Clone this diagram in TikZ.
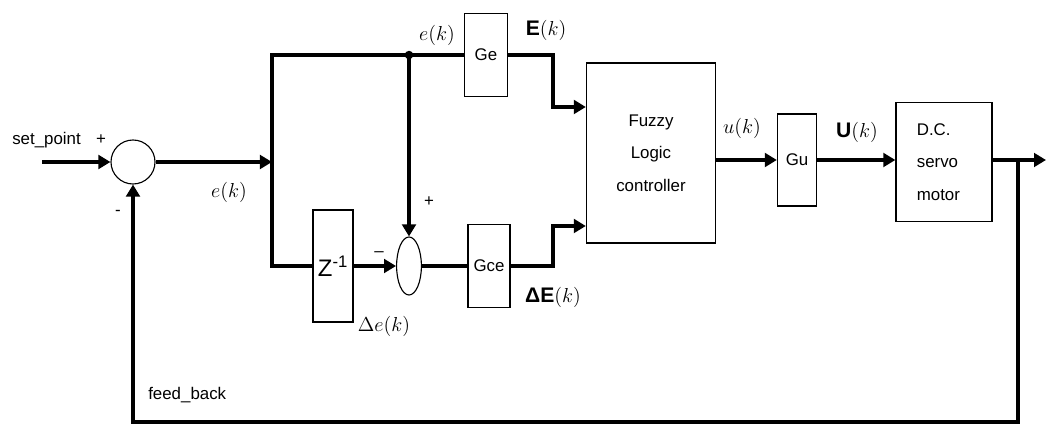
\documentclass[tikz,border=0pt]{standalone}
\usepackage{fontspec}
\setmainfont{Liberation Sans}
\usepackage{tikz}
\usetikzlibrary{arrows.meta,positioning,shapes.geometric,calc}
\tikzset{
  blk/.style={draw, line width=0.9pt, fill=white, inner sep=2pt, align=center, font=\fontsize{12}{23}\selectfont},
  sumc/.style={draw, circle, line width=0.8pt, minimum size=1.1cm, inner sep=0pt},
  sume/.style={draw, ellipse, line width=0.8pt, minimum width=0.62cm, minimum height=1.45cm, inner sep=0pt},
  wire/.style={line width=2.2pt},
  pre/.style={wire, -{Triangle[length=3mm,width=3.4mm]}},
  lbl/.style={font=\fontsize{12}{14}\selectfont, inner sep=0pt},
  sig/.style={font=\fontsize{15}{18}\selectfont, inner sep=0pt},
}

\begin{document}
\begin{tikzpicture}[x=0.025cm,y=-0.025cm]
\useasboundingbox (0,0) rectangle (1047,425);
% blocks
\node[sumc] (sum1) at (133,162) {};
\node[blk, minimum width=1.075cm, minimum height=2.075cm] (Ge) at (486,55) {Ge};
\node[blk, minimum width=1cm, minimum height=2.8cm] (zinv) at (333,266) {\fontsize{17}{20}\selectfont Z\textsuperscript{-1}};
\node[sume] (sum2) at (409,266) {};
\node[blk, minimum width=1.05cm, minimum height=2.075cm] (Gce) at (489,266) {Gce};
\node[blk, minimum width=3.225cm, minimum height=4.5cm] (flc) at (651,153) {Fuzzy\\Logic\\controller};
\node[blk, minimum width=0.975cm, minimum height=2.3cm] (Gu) at (797,160) {Gu};
\node[blk, minimum width=2.4cm, minimum height=2.975cm, align=left] (dc) at (944,162) {D.C.\\servo\\motor\hspace*{8pt}};
% corners
\coordinate (in) at (42,162);
\coordinate (j1) at (272,162);
\coordinate (j2) at (409,55);
\coordinate (k1) at (553,107);
\coordinate (k2) at (553,226);
\coordinate (out) at (1046,160);
\coordinate (fbr) at (1018,422);
% connectors
\draw[pre] (in) -- (sum1.west);
\draw[pre] (sum1.east) -- (j1);
\draw[wire] (Ge.west) -| (j1) |- (zinv.west);
\fill (j2) circle (3pt);
\draw[pre] (j2) -- (sum2.north);
\draw[pre] (zinv.east) -- (sum2.west);
\draw[wire] (sum2.east) -- (Gce.west);
\draw[pre] (Ge.east) -| (k1) -- (k1 -| flc.west);
\draw[pre] (Gce.east) -| (k2) -- (k2 -| flc.west);
\draw[pre] (flc.east |- Gu.west) -- (Gu.west);
\draw[pre] (Gu.east) -- (dc.west |- Gu.east);
\draw[pre] (dc.east |- out) -- (out);
\draw[pre] (fbr |- out) -- (fbr) -| (sum1.south);
% texts
\node[lbl, anchor=west] (spt) at (12,140) {set\_point};
\node[lbl] (p1) at (101,140) {+};
\node[lbl] (m1) at (118,213) {-};
\node[sig] (e1) at (229,192) {$e(k)$};
\node[sig] (e2) at (437,35) {$e(k)$};
\node[sig] (E) at (546,30) {\textbf{E}$(k)$};
\node[lbl] (m2) at (379,254) {--};
\node[lbl] (p2) at (429,202) {+};
\node[sig] (de) at (384,326) {$\Delta e(k)$};
\node[sig] (dE) at (553,297) {\textbf{ΔE}$(k)$};
\node[sig] (u) at (742,128) {$u(k)$};
\node[sig] (U) at (857,132) {\textbf{U}$(k)$};
\node[lbl, anchor=west] (fb) at (148,395) {feed\_back};
\end{tikzpicture}
\end{document}
